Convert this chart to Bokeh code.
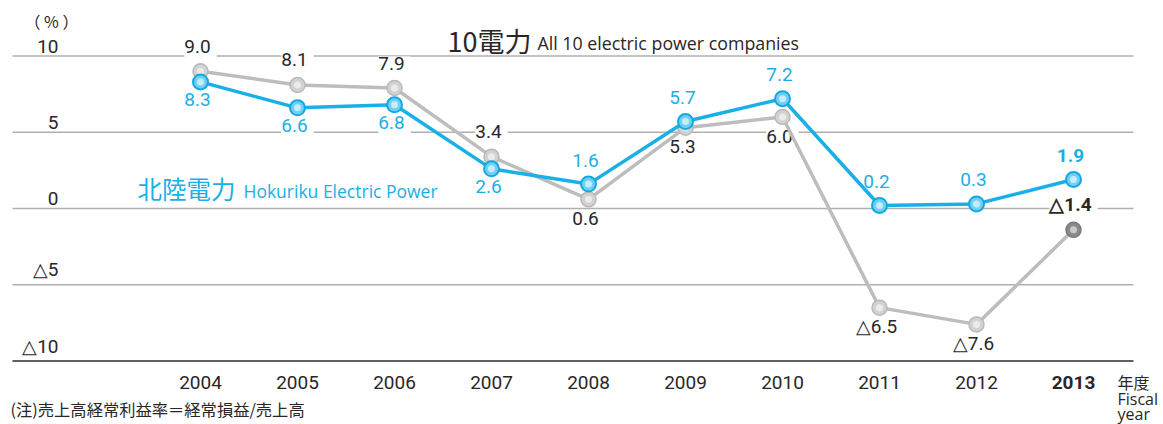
from bokeh.plotting import figure
from bokeh.models import Range1d, Label
from bokeh.core.properties import value
from bokeh.embed import file_html
from bokeh.resources import INLINE

# ---------------- data ----------------
years = ["2004", "2005", "2006", "2007", "2008", "2009", "2010", "2011", "2012", "2013"]
all10 = [9.0, 8.1, 7.9, 3.4, 0.6, 5.3, 6.0, -6.5, -7.6, -1.4]
hokuriku = [8.3, 6.6, 6.8, 2.6, 1.6, 5.7, 7.2, 0.2, 0.3, 1.9]
y_ticks = [10, 5, 0, -5, -10]
y_tick_labels = ["10", "5", "0", "△5", "△10"]
# label side: 1 = above the point, -1 = below
all10_side = [1, 1, 1, 1, -1, -1, -1, -1, -1, 1]
hokuriku_side = [-1, -1, -1, -1, 1, 1, 1, 1, 1, 1]

# ---------------- layout helpers ----------------
W, H = 1163, 424
X0, DX = 200.0, 97.0     # px of first year, spacing per year
Y0, DY = 208.0, 15.25    # px of y=0, px per unit


def xd(cx):
    return (cx - X0) / DX


def yd(cy):
    return (Y0 - cy) / DY


def fmt(v):
    s = f"{abs(v):.1f}"
    return "△" + s if v < 0 else s


NUM_FONT = "Roboto"
EN_FONT = "Open Sans"
JP_FONT = "Noto Sans CJK JP"
BLUE = "#1aafe6"
GRAY_LINE = "#bdbdbd"
TEXT = "#2a2627"

p = figure(width=W, height=H, output_backend="svg", toolbar_location=None,
           x_range=Range1d(xd(0), xd(W)), y_range=Range1d(yd(H), yd(0)),
           x_axis_location=None, y_axis_location=None, min_border=0,
           outline_line_color=None, background_fill_color="white",
           border_fill_color="white")
p.grid.visible = False

xs = list(range(len(years)))

# gridlines (light ones first; dark baseline drawn after labels)
for t in y_ticks[:-1]:
    p.line([xd(12), xd(1133)], [t, t], line_color="#b0b0b0", line_width=1.4)

# y tick labels (above the gridlines, right aligned)
p.text(x=[xd(58)] * len(y_ticks), y=[t + 3.5 / DY for t in y_ticks], text=y_tick_labels,
       text_align="right", text_baseline="bottom", text_font=value(NUM_FONT),
       text_font_size="19px", text_color=TEXT)


# data labels (white background knocks out gridlines)
def data_labels(vals, sides, color, offset=22):
    ys = [v + s * offset / DY for v, s in zip(vals, sides)]
    txt = [fmt(v) for v in vals]
    n = len(vals) - 1
    p.text(x=xs[:n], y=ys[:n], text=txt[:n], text_align="center", text_baseline="middle",
           text_font=value(NUM_FONT), text_font_size="19px", text_color=color,
           background_fill_color="white", padding=[0, 6, 0, 6])
    p.text(x=xs[n:], y=ys[n:], text=txt[n:], text_align="center", text_baseline="middle",
           text_font=value(NUM_FONT), text_font_size="19px", text_font_style="bold",
           text_color=color, background_fill_color="white", padding=[0, 6, 0, 6])


data_labels(all10, all10_side, TEXT)
data_labels(hokuriku, hokuriku_side, BLUE, offset=21)

# dark baseline
p.line([xd(12), xd(1133)], [y_ticks[-1]] * 2, line_color="#2b2b2b", line_width=1.4)

# lines
p.line(xs, all10, line_color=GRAY_LINE, line_width=3.5)
gray_fill = ["#d2d2d2"] * (len(years) - 1) + ["#8a8a8a"]
gray_edge = ["#b9b9b9"] * (len(years) - 1) + ["#7a7a7a"]
p.scatter(xs, all10, size=15, fill_color=gray_fill, line_color=gray_edge, line_width=1.5)
p.scatter(xs, all10, size=7, fill_color="white", fill_alpha=0.55, line_color=None)

p.line(xs, hokuriku, line_color=BLUE, line_width=3.5)
p.scatter(xs, hokuriku, size=15, fill_color="#6fd0f3", line_color="#14a8e1", line_width=2)
p.scatter(xs, hokuriku, size=7, fill_color="white", fill_alpha=0.6, line_color=None)

# year labels
yl = yd(382)
p.text(x=xs[:-1], y=[yl] * (len(xs) - 1), text=years[:-1], text_align="center",
       text_baseline="middle", text_font=value(NUM_FONT), text_font_size="19px",
       text_color=TEXT)
p.text(x=xs[-1:], y=[yl], text=years[-1:], text_align="center", text_baseline="middle",
       text_font=value(NUM_FONT), text_font_size="19px", text_font_style="bold",
       text_color=TEXT)


def lab(text, cx, cy, font, size, color=TEXT, align="left", baseline="middle"):
    p.add_layout(Label(x=xd(cx), y=yd(cy), text=text, text_font=font, text_font_size=size,
                       text_color=color, text_align=align, text_baseline=baseline))


# unit
lab("（ % ）", 24, 20, JP_FONT, "16px")
# legend texts
lab("10電力", 447, 40, JP_FONT, "27px")
lab("All 10 electric power companies", 537, 42, EN_FONT, "17.8px")
lab("北陸電力", 137, 188, JP_FONT, "24.5px", color=BLUE)
lab("Hokuriku Electric Power", 243, 190, EN_FONT, "17.5px", color=BLUE)
# fiscal year
lab("年度", 1117, 381, JP_FONT, "16px")
lab("Fiscal", 1117, 398, EN_FONT, "16px")
lab("year", 1117, 413, EN_FONT, "16px")
# note
lab("(注)売上高経常利益率＝経常損益/売上高", 10, 408, JP_FONT, "16.3px")

open("out.html", "w").write(file_html(p, INLINE))
